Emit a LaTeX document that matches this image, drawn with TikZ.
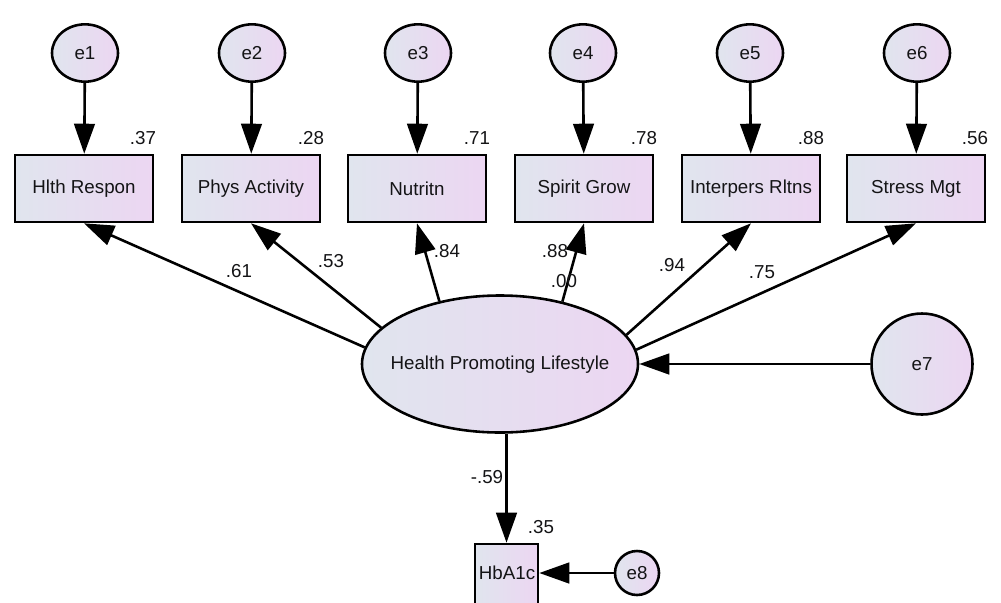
\documentclass[tikz,border=0pt]{standalone}
\usepackage{fontspec}
\setmainfont{Liberation Sans}
\usetikzlibrary{shapes.geometric,arrows.meta}
\definecolor{gradL}{RGB}{224,229,238}
\definecolor{gradR}{RGB}{236,214,242}
\definecolor{ink}{RGB}{20,20,22}
\begin{document}
\begin{tikzpicture}[x=0.03cm,y=-0.03cm,
  font=\fontsize{16}{19}\selectfont, text=ink,
  shadefill/.style={left color=gradL, right color=gradR},
  obs/.style={rectangle, draw=black, line width=2.2pt, shadefill,
    minimum width=4.14cm, minimum height=2.01cm, inner sep=0pt},
  err/.style={ellipse, draw=black, line width=2.2pt, shadefill,
    minimum width=1.98cm, minimum height=1.72cm, inner sep=0pt},
  errc/.style={circle, draw=black, line width=2.2pt, shadefill, inner sep=0pt},
  latent/.style={ellipse, draw=black, line width=2.2pt, shadefill,
    minimum width=8.28cm, minimum height=4.11cm, inner sep=0pt},
  arr/.style={line width=2.2pt, -{Triangle[length=0.9cm,width=0.62cm]}},
  val/.style={inner sep=0pt}
]
\clip (0,0) rectangle (1001,602);
\fill[white] (0,0) rectangle (1001,602);

% error terms of the indicators
\node[err] (e1) at (85,53) {e1};
\node[err] (e2) at (252,53) {e2};
\node[err] (e3) at (418,53) {e3};
\node[err] (e4) at (583,53) {e4};
\node[err] (e5) at (750,53) {e5};
\node[err] (e6) at (917,53) {e6};

% observed indicators
\node[obs] (b1) at (84,188.5) {Hlth Respon};
\node[obs] (b2) at (251,188.5) {Phys Activity};
\node[obs] (b3) at (417,188.5) {Nutritn};
\node[obs] (b4) at (584,188.5) {Spirit Grow};
\node[obs] (b5) at (751,188.5) {Interpers Rltns};
\node[obs] (b6) at (916,188.5) {Stress Mgt};

% latent factor, its disturbance and the outcome
\node[latent] (hpl) at (500,364) {};
\node[val] (hplt) at (500,365) {Health Promoting Lifestyle};
\node[errc, minimum size=3.03cm] (e7) at (922,364) {e7};
\node[obs, minimum width=1.89cm] (hba) at (506.5,577.5) {};
\node[val] (hbat) at (507,573) {HbA1c};
\node[errc, minimum size=1.32cm] (e8) at (637,573) {e8};

% error paths
\foreach \i in {1,...,6} { \draw[arr] (e\i) -- (b\i); }

% factor loadings
\draw[arr] (hpl.173) -- (b1.south);
\draw[arr] (hpl.163.6) -- (b2.south);
\draw[arr] (hpl.134.6) -- (b3.south);
\draw[arr] (hpl.45.4) -- (b4.south);
\draw[arr] (hpl.13.6) -- (b5.south);
\draw[arr] (hpl.6.6) -- (b6.south);

\draw[arr] (e7) -- (hpl);
\draw[arr] (hpl.south -| hba.north) -- (hba.north);
\draw[arr] (e8) -- (e8 -| hba.east);

% squared multiple correlations
\node[val] (r1) at (143,138) {.37};
\node[val] (r2) at (311,138) {.28};
\node[val] (r3) at (477,138) {.71};
\node[val] (r4) at (644,138) {.78};
\node[val] (r5) at (811,138) {.88};
\node[val] (r6) at (975,138) {.56};
\node[val] (r7) at (564,281) {.00};
\node[val] (r8) at (541,527) {.35};

% standardized path weights
\node[val] (w1) at (239,271) {.61};
\node[val] (w2) at (331,261) {.53};
\node[val] (w3) at (447,251) {.84};
\node[val] (w4) at (555,251) {.88};
\node[val] (w5) at (672,265) {.94};
\node[val] (w6) at (762,272) {.75};
\node[val] (w7) at (487,477) {-.59};
\end{tikzpicture}
\end{document}
